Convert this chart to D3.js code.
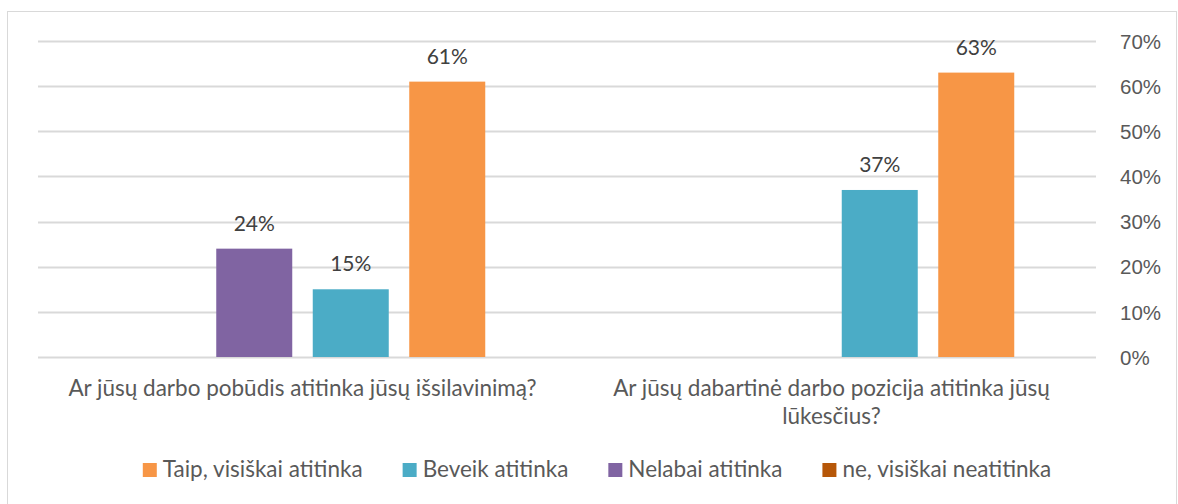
<!DOCTYPE html>
<html>
<head>
<meta charset="utf-8">
<script src="https://cdn.jsdelivr.net/npm/d3@7"></script>
<style>
  body { margin: 0; background: #fff; }
  svg { display: block; font-family: Lato, "Open Sans", sans-serif; }
</style>
</head>
<body>
<div id="chart"></div>
<script>
// categories (questions)
var categories = [
  "Ar jūsų darbo pobūdis atitinka jūsų išsilavinimą?",
  "Ar jūsų dabartinė darbo pozicija atitinka jūsų lūkesčius?"
];
// series, in bar order left to right
var series = ["ne, visiškai neatitinka", "Nelabai atitinka", "Beveik atitinka", "Taip, visiškai atitinka"];
var neValues      = [0, 0];
var nelabaiValues = [24, 0];
var beveikValues  = [15, 37];
var taipValues    = [61, 63];
var yTicks = [0, 10, 20, 30, 40, 50, 60, 70];
// legend is shown in reverse order
var legendOrder = ["Taip, visiškai atitinka", "Beveik atitinka", "Nelabai atitinka", "ne, visiškai neatitinka"];

var colors = {
  "ne, visiškai neatitinka": "#B65708",
  "Nelabai atitinka": "#8064A2",
  "Beveik atitinka": "#4BACC6",
  "Taip, visiškai atitinka": "#F79646"
};

var valuesBySeries = {
  "ne, visiškai neatitinka": neValues,
  "Nelabai atitinka": nelabaiValues,
  "Beveik atitinka": beveikValues,
  "Taip, visiškai atitinka": taipValues
};

var width = 1178, height = 504;
var margin = {top: 41, right: 82, bottom: 147, left: 38};
var plotW = width - margin.left - margin.right,
    plotH = height - margin.top - margin.bottom;

var svg = d3.select("#chart").append("svg")
  .attr("width", width)
  .attr("height", height);

// outer chart border
svg.append("rect")
  .attr("x", 7.5).attr("y", 11.5)
  .attr("width", 1169).attr("height", 520)
  .attr("fill", "none")
  .attr("stroke", "#d9d9d9");

var g = svg.append("g")
  .attr("transform", "translate(" + margin.left + "," + margin.top + ")");

var x0 = d3.scaleBand()
  .domain(categories)
  .range([0, plotW]);

var groupW = 365.5;
var x1 = d3.scaleBand()
  .domain(series)
  .range([(x0.bandwidth() - groupW) / 2, (x0.bandwidth() + groupW) / 2])
  .paddingInner(0.2124);

var y = d3.scaleLinear()
  .domain([0, 70])
  .range([plotH, 0]);

// gridlines
g.selectAll(".grid")
  .data(yTicks)
  .enter().append("line")
    .attr("x1", 0).attr("x2", plotW)
    .attr("y1", function(d){ return Math.round(y(d)) + 0.5 })
    .attr("y2", function(d){ return Math.round(y(d)) + 0.5 })
    .attr("stroke", "#d9d9d9")
    .attr("stroke-width", 2);

// y axis on the right
var yAxis = d3.axisRight(y)
  .tickValues(yTicks)
  .tickFormat(function(d){ return d + "%" })
  .tickSize(0)
  .tickPadding(0);

var yGuide = svg.append("g")
  .attr("transform", "translate(1120," + margin.top + ")")
  .call(yAxis);
yGuide.select(".domain").remove();
yGuide.selectAll("text")
  .attr("fill", "#595959")
  .style("font-size", "20.5px")
  .attr("dy", "0.35em");

// bars
var groups = g.selectAll(".cat")
  .data(categories)
  .enter().append("g")
    .attr("transform", function(d){ return "translate(" + x0(d) + ",0)" });

groups.selectAll("rect")
  .data(function(d, i){
    return series.map(function(s){ return {s: s, v: valuesBySeries[s][i]} });
  })
  .enter().append("rect")
    .attr("x", function(d){ return x1(d.s) })
    .attr("width", x1.bandwidth())
    .attr("y", function(d){ return y(d.v) })
    .attr("height", function(d){ return plotH - y(d.v) })
    .attr("fill", function(d){ return colors[d.s] });

// data labels
groups.selectAll(".lbl")
  .data(function(d, i){
    return series.map(function(s){ return {s: s, v: valuesBySeries[s][i]} })
      .filter(function(d){ return d.v > 0 });
  })
  .enter().append("text")
    .attr("x", function(d){ return x1(d.s) + x1.bandwidth() / 2 })
    .attr("y", function(d){ return y(d.v) - 18 })
    .attr("text-anchor", "middle")
    .attr("fill", "#404040")
    .style("font-size", "21px")
    .text(function(d){ return d.v + "%" });

// category labels, wrapped to the band width
var catLabels = g.selectAll(".catlbl")
  .data(categories)
  .enter().append("text")
    .attr("x", function(d){ return x0(d) + x0.bandwidth() / 2 })
    .attr("y", plotH + 39)
    .attr("text-anchor", "middle")
    .attr("fill", "#595959")
    .style("font-size", "22.5px");

catLabels.each(function(d){
  var text = d3.select(this);
  var words = d.split(" ");
  var line = [];
  var tspan = text.append("tspan").attr("x", text.attr("x")).attr("dy", 0);
  words.forEach(function(w){
    line.push(w);
    tspan.text(line.join(" "));
    if (tspan.node().getComputedTextLength() > x0.bandwidth() - 40 && line.length > 1) {
      line.pop();
      tspan.text(line.join(" "));
      line = [w];
      tspan = text.append("tspan").attr("x", text.attr("x")).attr("dy", 28).text(w);
    }
  });
});

// legend
var legend = svg.append("g").attr("transform", "translate(0,477)");
var items = legend.selectAll(".item")
  .data(legendOrder)
  .enter().append("g");

items.append("rect")
  .attr("y", -14)
  .attr("width", 14).attr("height", 14)
  .attr("fill", function(d){ return colors[d] });

items.append("text")
  .attr("x", 20)
  .attr("fill", "#595959")
  .style("font-size", "22.5px")
  .text(function(d){ return d });

var pos = [];
var cursor = 0;
items.each(function(d){
  var w = 20 + d3.select(this).select("text").node().getComputedTextLength();
  pos.push(cursor);
  cursor += w + 40;
});
var total = cursor - 40;
var start = 597 - total / 2;
items.attr("transform", function(d, i){ return "translate(" + (start + pos[i]) + ",0)" });
</script>
</body>
</html>
